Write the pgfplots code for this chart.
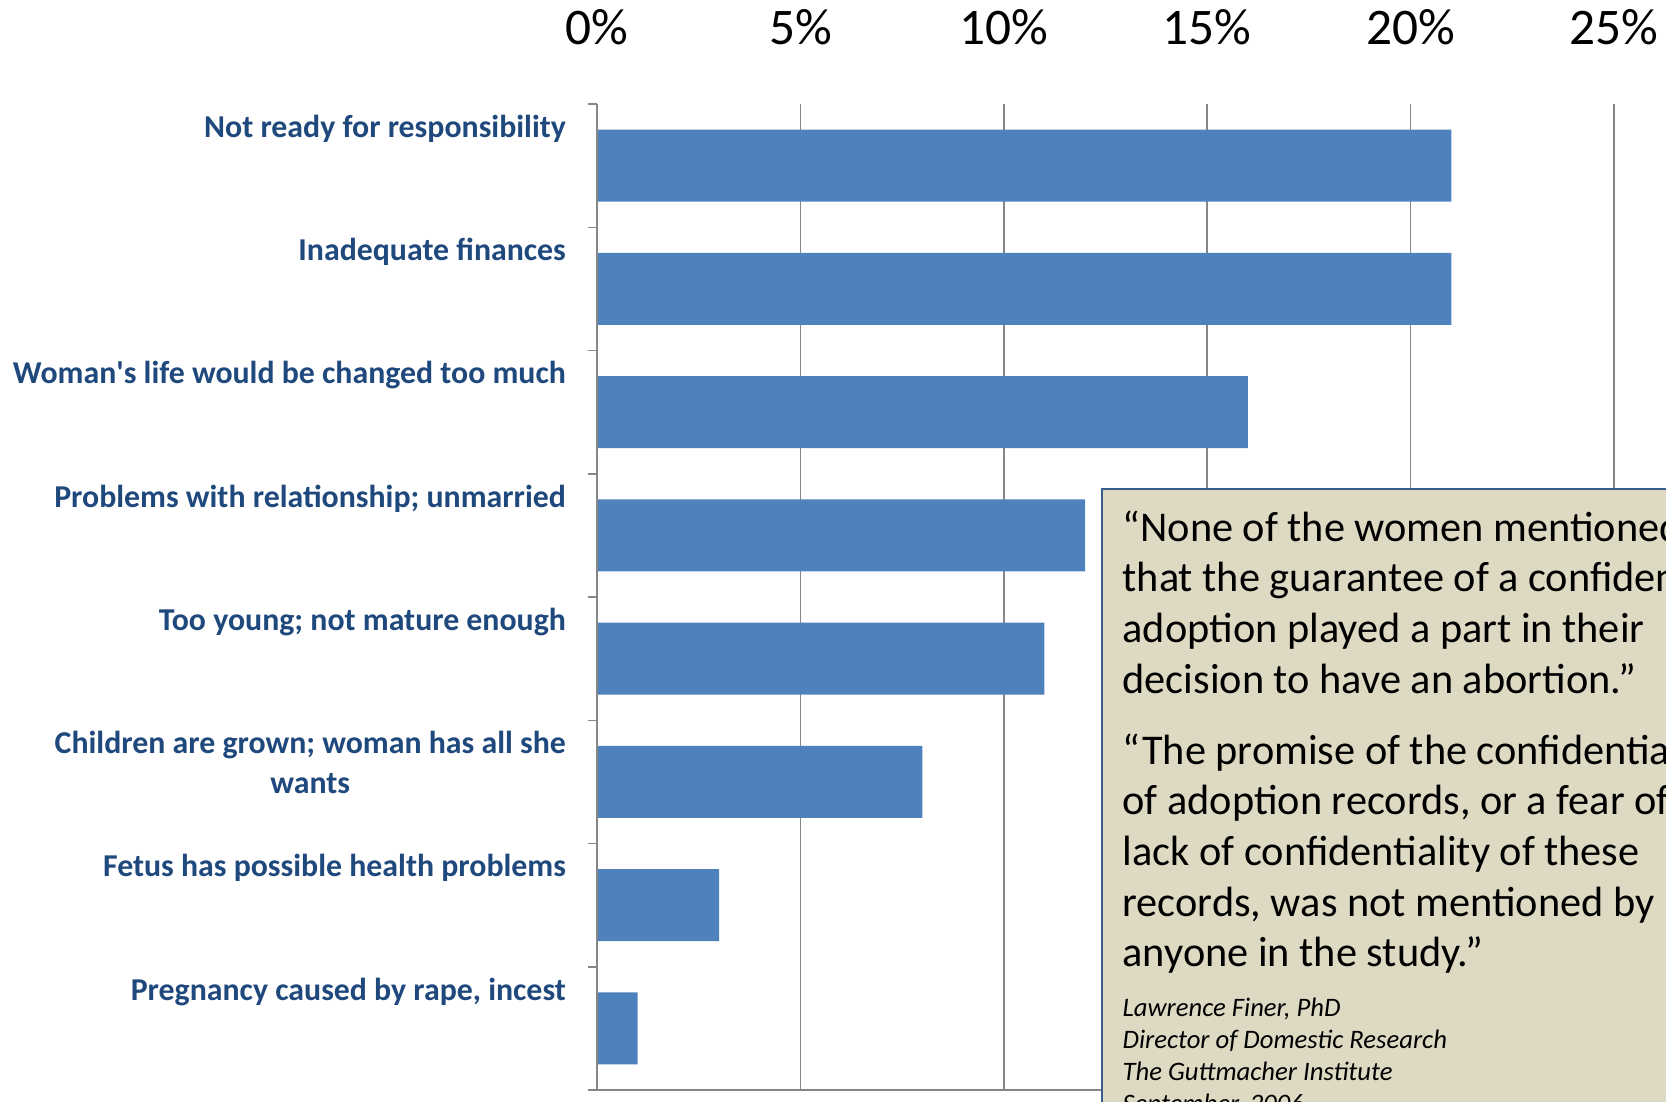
\documentclass[border=0pt]{standalone}
\usepackage{pgfplots}
\pgfplotsset{compat=1.18}
\usepackage{fontspec}
\setmainfont{Carlito}
\definecolor{barblue}{HTML}{4F81BD}
\definecolor{labelblue}{HTML}{1F497D}
\definecolor{gridgray}{HTML}{868686}
\definecolor{boxfill}{HTML}{DDD9C3}
\definecolor{boxborder}{HTML}{385D8A}
\begin{document}
\begin{tikzpicture}
\begin{scope}
\clip (0,0) rectangle (499.8pt,330.3pt);
\begin{axis}[
  at={(179.1pt,3.3pt)}, anchor=south west,
  scale only axis, width=305.1pt, height=295.8pt,
  xmin=0, xmax=25, ymin=-0.5, ymax=7.5, y dir=reverse,
  axis line style={draw=none},
  xtick={0,5,...,25}, xticklabel pos=upper,
  xticklabel={\pgfmathprintnumber{\tick}\%},
  xticklabel style={font=\fontsize{15.4}{18}\selectfont, yshift=11.7pt},
  xtick style={draw=none},
  xmajorgrids, grid style={gridgray, line width=0.45pt},
  /pgf/number format/assume math mode=true,
  ytick={-0.5,0.5,...,6.5}, ytick pos=left,
  yticklabels={Not ready for responsibility, Inadequate finances, Woman\textquotesingle s life would be changed too much, Problems with relationship; unmarried, Too young; not mature enough, Children are grown; woman has all she\\wants, Fetus has possible health problems, {Pregnancy caused by rape, incest}},
  yticklabel style={anchor=north east, align=center, font=\bfseries\fontsize{9.55}{11.8}\selectfont, text=labelblue, xshift=-3.2pt, yshift=0.2pt},
  extra y ticks={7.5}, extra y tick labels={},
  extra y tick style={grid=none},
  ytick style={draw=gridgray, line width=0.45pt},
  tick align=outside, major tick length=2.6pt,
]
\addplot[xbar, fill=barblue, draw=none, bar width=0.585] coordinates {(21,0) (21,1) (16,2) (12,3) (11,4) (8,5) (3,6) (1,7)};
\draw[gridgray, line width=0.6pt] (axis cs:0,-0.5) -- (axis cs:0,7.5);
\draw[gridgray, line width=0.6pt] (axis cs:0,7.5) -- (axis cs:25,7.5);
\end{axis}
\path[draw=boxborder, line width=0.7pt, fill=boxfill] (330.6pt,183.6pt) rectangle (520pt,-10pt);
\node[anchor=north west, align=left, inner sep=0pt, font=\fontsize{12.7}{15.2}\selectfont] at (336.6pt,177.3pt)
  {“None of the women mentioned\\that the guarantee of a confidential\\adoption played a part in their\\decision to have an abortion.”};
\node[anchor=north west, align=left, inner sep=0pt, font=\fontsize{12.7}{15.2}\selectfont] at (336.6pt,110.4pt)
  {“The promise of the confidentiality\\of adoption records, or a fear of\\lack of confidentiality of these\\records, was not mentioned by\\anyone in the study.”};
\node[anchor=north west, align=left, inner sep=0pt, font=\itshape\fontsize{8}{9.6}\selectfont] at (336.6pt,31pt)
  {Lawrence Finer, PhD\\Director of Domestic Research\\The Guttmacher Institute\\September, 2006};
\end{scope}
\pgfresetboundingbox
\path[use as bounding box] (0,0) rectangle (499.8pt,330.3pt);
\end{tikzpicture}
\end{document}
